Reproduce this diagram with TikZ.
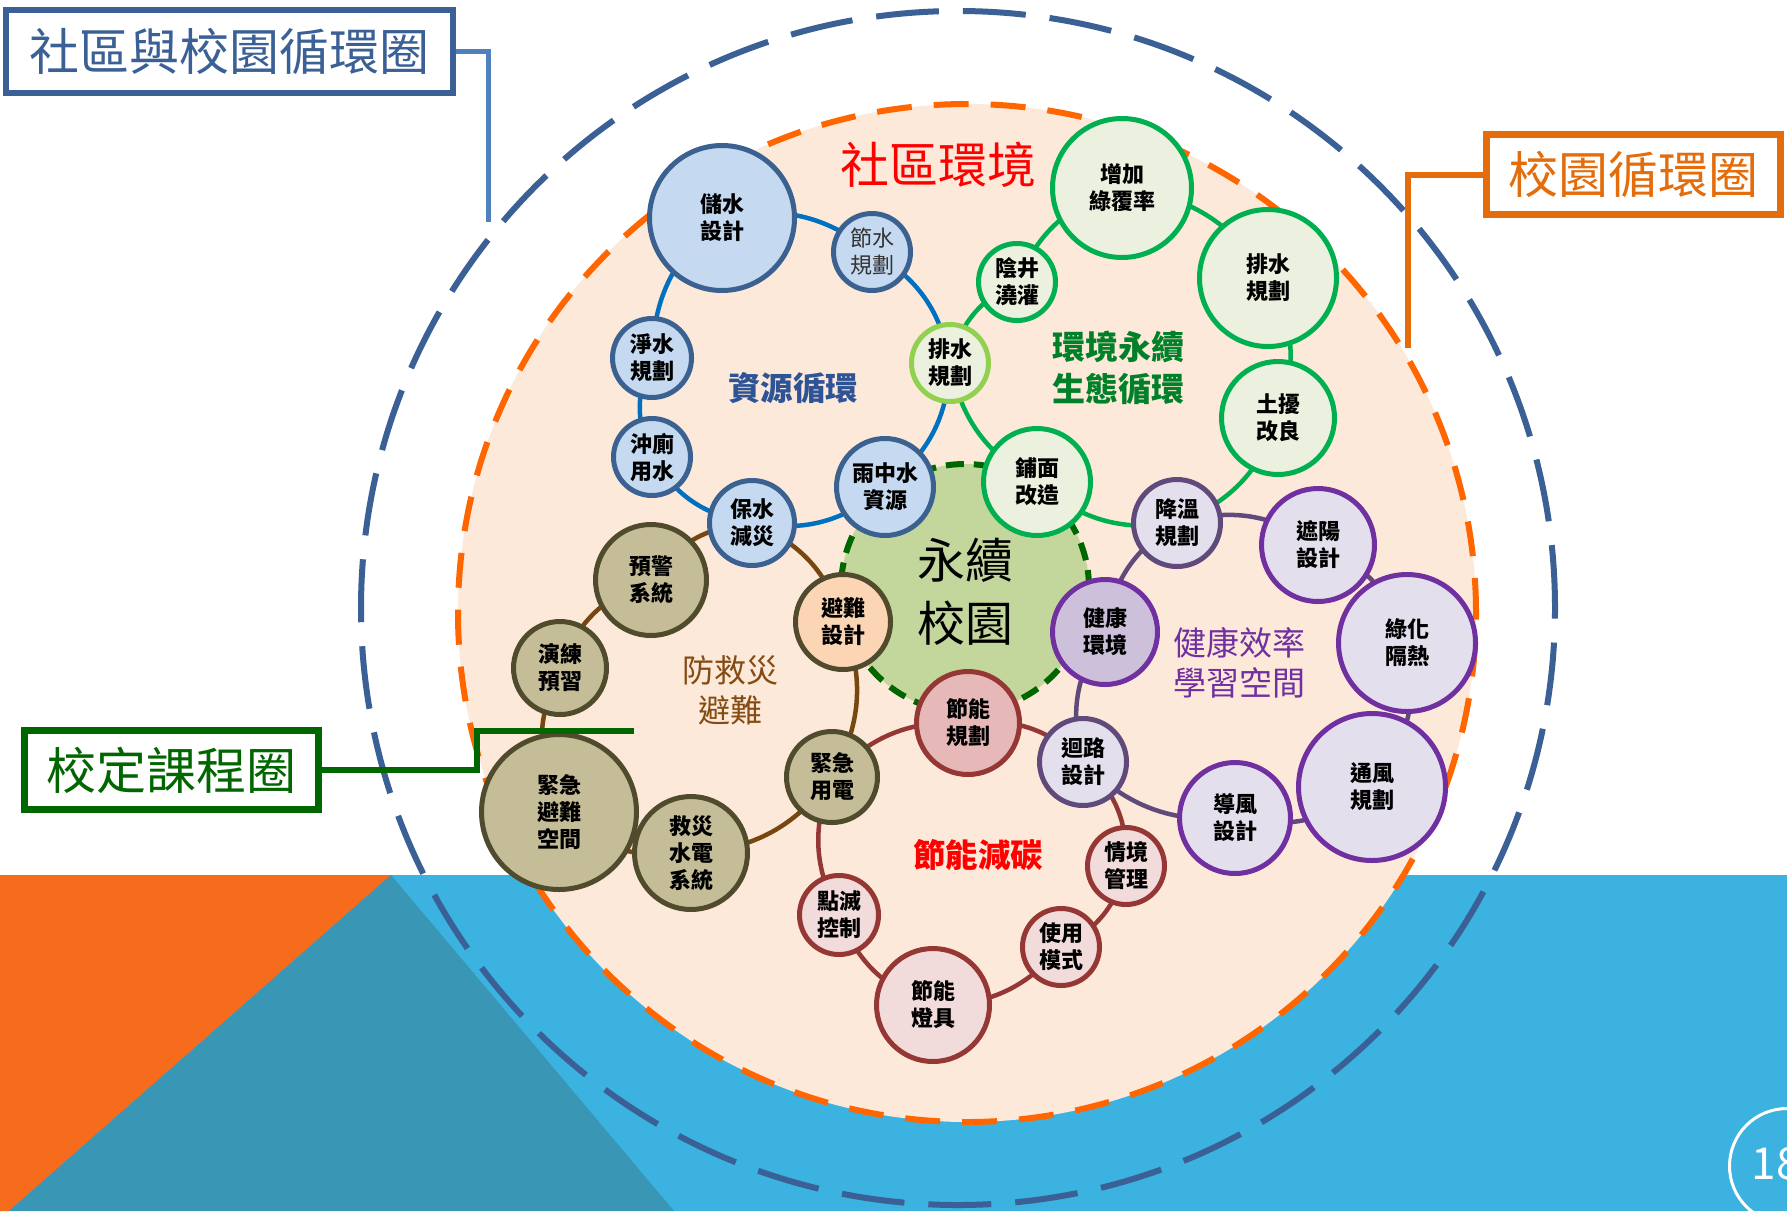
\documentclass[tikz,border=0pt]{standalone}
\usepackage{fontspec}
\setmainfont{Noto Sans CJK TC}
\definecolor{bandblue}{RGB}{59,178,223}
\definecolor{triorange}{RGB}{247,107,29}
\definecolor{triteal}{RGB}{57,150,180}
\definecolor{peach}{RGB}{253,233,217}
\definecolor{campusor}{RGB}{255,102,0}
\definecolor{commblue}{RGB}{58,96,150}
\definecolor{commline}{RGB}{79,129,189}
\definecolor{boxor}{RGB}{228,108,10}
\definecolor{boxgr}{RGB}{0,102,0}
\definecolor{corefill}{RGB}{195,214,155}
\definecolor{coreline}{RGB}{0,102,0}
\definecolor{bfill}{RGB}{197,217,241}
\definecolor{bbord}{RGB}{59,97,144}
\definecolor{blinkc}{RGB}{0,112,192}
\definecolor{gfill}{RGB}{235,241,222}
\definecolor{gbord}{RGB}{0,176,80}
\definecolor{lgbord}{RGB}{146,208,80}
\definecolor{brfill}{RGB}{196,189,151}
\definecolor{brbord}{RGB}{80,75,45}
\definecolor{brlink}{RGB}{120,70,15}
\definecolor{pchfill}{RGB}{252,213,181}
\definecolor{rfill}{RGB}{242,220,219}
\definecolor{rfill2}{RGB}{230,185,184}
\definecolor{rbord}{RGB}{149,55,53}
\definecolor{pfill}{RGB}{228,223,236}
\definecolor{pfill2}{RGB}{204,192,218}
\definecolor{pbord}{RGB}{112,48,160}
\definecolor{gpbord}{RGB}{96,74,123}
\definecolor{zyc}{RGB}{46,84,150}
\definecolor{hjc}{RGB}{0,128,40}
\definecolor{fjc}{RGB}{132,75,20}
\definecolor{jkc}{RGB}{112,48,160}
\definecolor{redtxt}{RGB}{255,0,0}
\pgfdeclarelayer{bgl}
\pgfdeclarelayer{links}
\pgfsetlayers{bgl,links,main}
\begin{document}
\begin{tikzpicture}[x=1pt,y=-1pt,
  nd/.style={circle, inner sep=0pt, align=center, line width=5pt, text=black,
    font=\bfseries\fontsize{22}{27}\selectfont},
  sz/.style={minimum size={2*#1-5}},
  bluend/.style={nd, fill=bfill, draw=bbord},
  greennd/.style={nd, fill=gfill, draw=gbord},
  lgreennd/.style={nd, fill=gfill, draw=lgbord},
  brownnd/.style={nd, fill=brfill, draw=brbord},
  peachnd/.style={nd, fill=pchfill, draw=brbord},
  rednd/.style={nd, fill=rfill, draw=rbord},
  redplan/.style={nd, fill=rfill2, draw=rbord},
  purpnd/.style={nd, fill=pfill, draw=pbord},
  gpurpnd/.style={nd, fill=pfill, draw=gpbord},
  healthnd/.style={nd, fill=pfill2, draw=pbord},
  lnk/.style={line width=4.5pt, bend left=25},
  bluelink/.style={lnk, draw=blinkc},
  greenlink/.style={lnk, draw=gbord},
  brownlink/.style={lnk, draw=brlink},
  redlink/.style={lnk, draw=rbord},
  purplink/.style={lnk, draw=gpbord},
  lbl/.style={align=center, inner sep=0pt},
  titlebox/.style={rectangle, fill=white, inner sep=0pt, font=\fontsize{50}{50}\selectfont}
]
\useasboundingbox (0,0) rectangle (1787,1211);

\begin{pgfonlayer}{bgl}
\fill[white] (0,0) rectangle (1787,1211);
\fill[bandblue] (0,875) rectangle (1787,1211);
\fill[triorange] (0,875) -- (391,875) -- (9,1211) -- (0,1211) -- cycle;
\fill[triteal] (391,875) -- (674,1211) -- (9,1211) -- cycle;
\draw[fill=peach, draw=campusor, line width=6pt, dash pattern=on 35pt off 22pt] (967,613) circle[radius=509pt];
\draw[draw=commblue, line width=6pt, dash pattern=on 63pt off 24pt] (958,608) circle[radius=597pt];
\draw[fill=corefill, draw=coreline, line width=6pt, dash pattern=on 18pt off 10pt] (965,588) circle[radius=124pt];
\end{pgfonlayer}

% labels
\node[lbl, text=redtxt, font=\fontsize{49}{55}\selectfont] (shequ) at (938,165) {社區環境};
\node[lbl, text=zyc, font=\bfseries\fontsize{32.5}{40}\selectfont] (zyxh) at (793,388) {資源循環};
\node[lbl, text=hjc, font=\bfseries\fontsize{33}{42}\selectfont] (hjyx) at (1118,368) {環境永續\\生態循環};
\node[lbl, text=fjc, font=\fontsize{32}{40}\selectfont] (fjz) at (730,690) {防救災\\避難};
\node[lbl, text=jkc, font=\fontsize{33}{40}\selectfont] (jkxl) at (1239,663) {健康效率\\學習空間};
\node[lbl, text=redtxt, font=\bfseries\fontsize{32.5}{40}\selectfont] (jnjt) at (978,855) {節能減碳};
\node[lbl, font=\fontsize{48}{63}\selectfont] (yxxy) at (965,592) {永續\\校園};

% blue ring
\node[bluend, sz=75] (chushui) at (722,218) {儲水\\設計};
\node[bluend, sz=41, font=\fontsize{22}{27}\selectfont, text=black!80] (jieshui) at (872,252) {節水\\規劃};
\node[bluend, sz=42] (jingshui) at (652,358) {淨水\\規劃};
\node[bluend, sz=41] (chongce) at (652,457) {沖廁\\用水};
\node[bluend, sz=45] (baoshui) at (752,523) {保水\\減災};
\node[bluend, sz=51] (yuzhong) at (885,487) {雨中水\\資源};
\node[lgreennd, sz=41] (paishuis) at (950,363) {排水\\規劃};

% green ring
\node[greennd, sz=41] (yinjing) at (1017,282) {陰井\\澆灌};
\node[greennd, sz=72] (zengjia) at (1122,188) {增加\\綠覆率};
\node[greennd, sz=71] (paishuil) at (1268,278) {排水\\規劃};
\node[greennd, sz=59] (turang) at (1278,418) {土擾\\改良};
\node[greennd, sz=56] (pumian) at (1037,482) {鋪面\\改造};

% purple ring
\node[gpurpnd, sz=46] (jiangwen) at (1177,523) {降溫\\規劃};
\node[purpnd, sz=59] (zheyang) at (1318,545) {遮陽\\設計};
\node[purpnd, sz=71] (lvhua) at (1407,643) {綠化\\隔熱};
\node[purpnd, sz=76] (tongfeng) at (1372,787) {通風\\規劃};
\node[purpnd, sz=58] (daofeng) at (1235,818) {導風\\設計};
\node[gpurpnd, sz=46] (huilu) at (1083,762) {迴路\\設計};
\node[healthnd, sz=55] (jiankang) at (1105,632) {健康\\環境};

% red ring
\node[redplan, sz=54] (jnplan) at (968,723) {節能\\規劃};
\node[rednd, sz=41] (qingjing) at (1126,866) {情境\\管理};
\node[rednd, sz=41] (shiyong) at (1061,947) {使用\\模式};
\node[rednd, sz=59] (dengju) at (933,1005) {節能\\燈具};
\node[rednd, sz=42] (dianmie) at (839,915) {點滅\\控制};

% brown ring
\node[brownnd, sz=58] (yujing) at (651,580) {預警\\系統};
\node[brownnd, sz=49] (yanlian) at (560,668) {演練\\預習};
\node[brownnd, sz=80] (kongjian) at (559,812) {緊急\\避難\\空間};
\node[brownnd, sz=59] (jiuzai) at (691,853) {救災\\水電\\系統};
\node[brownnd, sz=48] (yongdian) at (832,777) {緊急\\用電};
\node[peachnd, sz=50] (binan) at (843,622) {避難\\設計};

\begin{pgfonlayer}{links}
\draw[bluelink] (chushui.center) to (jieshui.center);
\draw[bluelink] (jieshui.center) to (paishuis.center);
\draw[bluelink] (paishuis.center) to (yuzhong.center);
\draw[bluelink] (yuzhong.center) to (baoshui.center);
\draw[bluelink] (baoshui.center) to (chongce.center);
\draw[bluelink] (chongce.center) to (jingshui.center);
\draw[bluelink] (jingshui.center) to (chushui.center);

\draw[greenlink] (zengjia.center) to (paishuil.center);
\draw[greenlink] (paishuil.center) to (turang.center);
\draw[greenlink] (turang.center) to (jiangwen.center);
\draw[greenlink] (jiangwen.center) to (pumian.center);
\draw[greenlink] (pumian.center) to (paishuis.center);
\draw[greenlink] (paishuis.center) to (yinjing.center);
\draw[greenlink] (yinjing.center) to (zengjia.center);

\draw[brownlink] (baoshui.center) to (binan.center);
\draw[brownlink] (binan.center) to (yongdian.center);
\draw[brownlink] (yongdian.center) to (jiuzai.center);
\draw[brownlink] (jiuzai.center) to (kongjian.center);
\draw[brownlink] (kongjian.center) to (yanlian.center);
\draw[brownlink] (yanlian.center) to (yujing.center);
\draw[brownlink] (yujing.center) to (baoshui.center);

\draw[redlink] (jnplan.center) to (huilu.center);
\draw[redlink] (huilu.center) to (qingjing.center);
\draw[redlink] (qingjing.center) to (shiyong.center);
\draw[redlink] (shiyong.center) to (dengju.center);
\draw[redlink] (dengju.center) to (dianmie.center);
\draw[redlink] (dianmie.center) to (yongdian.center);
\draw[redlink] (yongdian.center) to (jnplan.center);

\draw[purplink] (jiangwen.center) to (zheyang.center);
\draw[purplink] (zheyang.center) to (lvhua.center);
\draw[purplink] (lvhua.center) to (tongfeng.center);
\draw[purplink] (tongfeng.center) to (daofeng.center);
\draw[purplink] (daofeng.center) to (huilu.center);
\draw[purplink] (huilu.center) to (jiankang.center);
\draw[purplink] (jiankang.center) to (jiangwen.center);
\end{pgfonlayer}

% title boxes
\node[titlebox, draw=commblue, line width=6pt, text=commblue, minimum width=447, minimum height=83] (box1) at (229.5,51.5) {社區與校園循環圈};
\node[titlebox, draw=boxor, line width=7pt, text=boxor, minimum width=294, minimum height=80] (box2) at (1633.5,174.5) {校園循環圈};
\node[titlebox, draw=boxgr, line width=7pt, text=boxgr, minimum width=294, minimum height=79] (box3) at (171.5,770) {校定課程圈};
\coordinate (c1end) at (488,222);
\coordinate (c2end) at (1408,348);
\coordinate (c3mid) at (477,731);
\coordinate (c3end) at (634,731);
\draw[commline, line width=5pt] (box1.east) -| (c1end);
\draw[boxor, line width=6pt] (box2.west) -| (c2end);
\draw[boxgr, line width=6pt] (box3.east) -| (c3mid) -- (c3end);

% page number
\node[circle, draw=white, line width=3pt, minimum size=115, inner sep=0pt] (pagenum) at (1787,1166) {};
\node[inner sep=0pt, text=white, font=\fontsize{44}{44}\selectfont] (pagetxt) at (1776,1164) {18};
\end{tikzpicture}
\end{document}
